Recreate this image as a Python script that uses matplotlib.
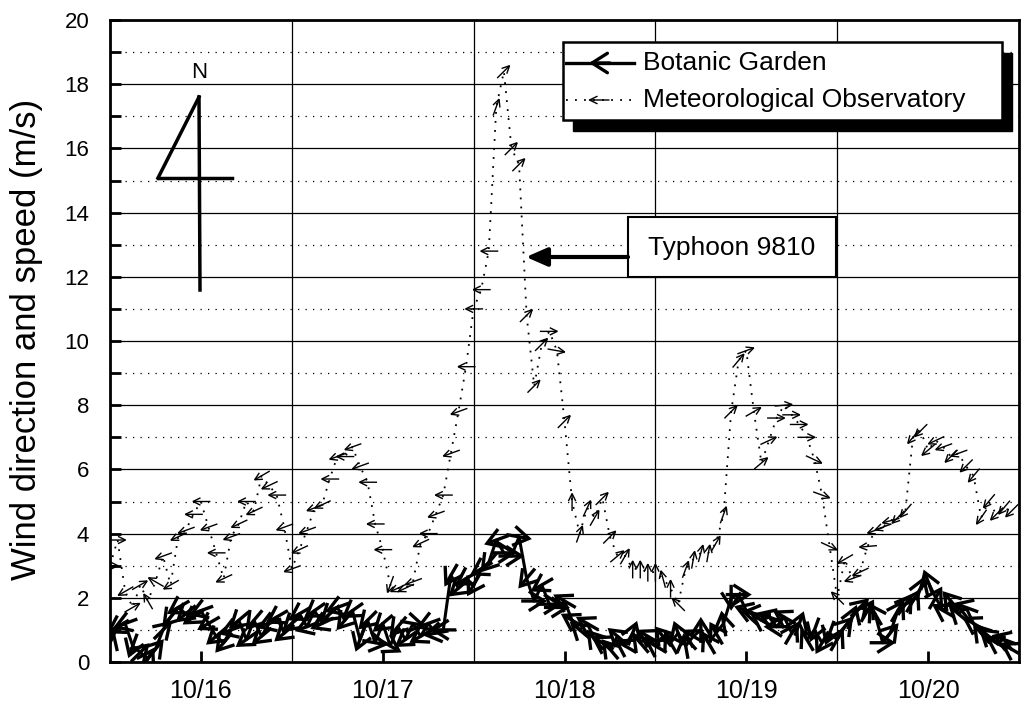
import numpy as np
from matplotlib import pyplot as plt
from matplotlib.patches import FancyArrowPatch, Rectangle

plt.rcParams['font.family'] = ['Liberation Sans', 'DejaVu Sans']

# hourly record, 10/16 00:00 .. 10/20 23:00
hours = np.arange(120)
day_labels = ['10/16', '10/17', '10/18', '10/19', '10/20']

# Botanic Garden: speed (m/s) and direction the wind blows toward (deg, 0 = N)
bot_speed = [0.6, 1.1, 1.2, 0.5, 0.3, 0.1, 0.4, 1.0, 1.4, 1.7, 1.5, 1.4, 1.6, 1.2, 0.8, 0.6, 1.0, 1.3, 0.7, 1.3, 0.8, 1.2, 1.4, 0.9,
             1.2, 1.5, 1.1, 1.6, 1.2, 1.5, 1.7, 1.3, 1.6, 0.7, 1.3, 0.6, 1.2, 0.5, 1.1, 0.7, 1.2, 0.8, 1.2, 0.9, 1.0, 2.7, 2.3, 2.6,
             2.4, 2.9, 3.1, 3.8, 3.4, 3.3, 3.9, 2.6, 1.9, 2.4, 1.8, 1.7, 1.9, 1.3, 1.0, 1.2, 0.7, 0.6, 0.4, 0.8, 0.5, 0.9, 0.6, 0.8,
             0.5, 0.8, 0.6, 0.9, 0.5, 0.8, 1.0, 0.6, 0.9, 1.2, 2.0, 2.1, 1.6, 1.5, 1.3, 1.4, 1.1, 1.4, 0.9, 1.2, 0.7, 1.0, 0.6, 0.9,
             0.7, 1.1, 1.4, 1.7, 1.6, 1.5, 0.6, 0.9, 1.6, 1.8, 1.9, 2.3, 2.5, 2.0, 1.6, 1.9, 1.5, 1.7, 1.2, 0.9, 0.8, 0.6, 0.7, 0.4]
bot_dir = [20, 240, 250, 200, 45, 30, 40, 45, 220, 240, 230, 235, 250, 240, 230, 220, 250, 230, 235, 220, 230, 250, 240, 230,
           230, 240, 250, 235, 245, 230, 250, 220, 235, 200, 225, 100, 230, 120, 220, 235, 100, 240, 250, 260, 270, 210, 230, 240,
           210, 240, 220, 250, 90, 90, 100, 220, 90, 240, 90, 90, 300, 300, 310, 300, 320, 300, 320, 310, 300, 20, 320, 300,
           300, 320, 330, 340, 350, 300, 0, 330, 330, 350, 180, 90, 290, 280, 300, 290, 270, 300, 30, 20, 330, 200, 210, 200,
           30, 40, 20, 45, 30, 330, 90, 40, 30, 35, 30, 20, 340, 30, 300, 320, 310, 290, 300, 320, 310, 300, 290, 300]

# Meteorological Observatory
obs_speed = [3.0, 3.8, 2.2, 1.7, 2.4, 1.9, 2.5, 3.3, 2.4, 3.9, 4.1, 4.6, 5.0, 4.2, 3.4, 2.6, 3.9, 4.3, 5.0, 4.7, 5.8, 5.5, 5.2, 4.2,
             2.9, 3.5, 4.1, 4.8, 4.9, 5.7, 6.4, 6.4, 6.7, 6.1, 5.6, 4.3, 3.5, 2.4, 2.3, 2.3, 2.5, 3.7, 4.0, 4.6, 5.2, 6.5, 7.8, 9.2,
             11.0, 11.6, 12.8, 17.3, 18.4, 16.0, 15.5, 10.8, 8.6, 9.9, 10.3, 9.7, 7.5, 5.0, 4.0, 4.8, 4.5, 5.1, 3.9, 3.3, 3.3, 2.9, 2.9, 2.8,
             2.8, 2.6, 2.3, 1.8, 2.9, 3.2, 3.4, 3.4, 3.7, 4.6, 7.8, 9.4, 9.7, 7.8, 6.2, 6.9, 7.6, 8.0, 7.7, 7.4, 7.0, 6.3, 5.2, 3.6,
             2.0, 3.2, 2.6, 2.8, 3.6, 4.1, 4.2, 4.4, 4.5, 4.7, 7.0, 7.2, 6.6, 6.9, 6.7, 6.4, 6.5, 6.1, 5.8, 4.5, 5.0, 4.6, 4.8, 4.7]
obs_dir = [90, 90, 240, 60, 60, 330, 300, 250, 240, 245, 250, 270, 270, 250, 270, 245, 250, 245, 270, 245, 240, 245, 270, 250,
           250, 245, 250, 250, 245, 270, 250, 270, 250, 250, 270, 270, 270, 200, 245, 245, 250, 245, 270, 250, 270, 250, 250, 270,
           270, 270, 270, 20, 45, 45, 45, 45, 45, 45, 90, 100, 45, 0, 20, 25, 30, 45, 45, 50, 30, 0, 0, 0,
           0, 345, 0, 315, 20, 10, 15, 10, 30, 20, 45, 40, 70, 60, 50, 65, 90, 85, 90, 90, 90, 115, 110, 115,
           315, 240, 250, 245, 265, 250, 250, 255, 225, 220, 220, 225, 230, 245, 250, 225, 250, 225, 220, 215, 220, 225, 220, 225]

FIG_W, FIG_H = 1021, 708
AX_L, AX_R, AX_T, AX_B = 110, 1019, 20, 662
X_MAX, Y_MAX = 120, 20


def px(x, y):
    # figure pixel -> data coordinates (for decorations only)
    return ((x - AX_L) * X_MAX / (AX_R - AX_L), (AX_B - y) * Y_MAX / (AX_B - AX_T))


def vector_arrows(ax, x, y, d, length, lw, style, scale, z):
    sx = X_MAX / (AX_R - AX_L)
    sy = Y_MAX / (AX_B - AX_T)
    for xi, yi, di in zip(x, y, d):
        th = np.radians(di)
        dx = 0.5 * length * np.sin(th) * sx
        dy = 0.5 * length * np.cos(th) * sy
        a = FancyArrowPatch((xi - dx, yi - dy), (xi + dx, yi + dy), arrowstyle=style,
                            mutation_scale=scale, lw=lw, color='k', shrinkA=0, shrinkB=0,
                            zorder=z, capstyle='butt', joinstyle='miter')
        ax.add_patch(a)


def main():
    fig = plt.figure(figsize=(FIG_W / 100, FIG_H / 100), dpi=100)
    ax = fig.add_axes([AX_L / FIG_W, 1 - AX_B / FIG_H,
                       (AX_R - AX_L) / FIG_W, (AX_B - AX_T) / FIG_H])
    ax.set_xlim(0, X_MAX)
    ax.set_ylim(0, Y_MAX)

    # grid
    for v in range(2, 20, 2):
        ax.axhline(v, color='k', lw=0.9, zorder=1)
    for v in range(1, 20, 2):
        ax.axhline(v, color='k', lw=0.9, ls=(0, (1, 5)), zorder=1)
    for d in range(24, 120, 24):
        ax.axvline(d, color='k', lw=0.9, zorder=1)

    # Meteorological Observatory
    ax.plot(hours, obs_speed, color='k', lw=1.3, ls=(0, (1, 4)), zorder=2)
    vector_arrows(ax, hours, obs_speed, obs_dir, 19, 1.0,
                  '->,head_length=0.45,head_width=0.22', 12, 3)

    # Botanic Garden
    ax.plot(hours, bot_speed, color='k', lw=2.2, zorder=4)
    vector_arrows(ax, hours, bot_speed, bot_dir, 26, 2.4,
                  '->,head_length=0.55,head_width=0.35', 20, 4)

    ax.set_yticks(range(0, 21, 2))
    ax.set_yticks(range(1, 20, 2), minor=True)
    ax.set_xticks(np.arange(12, 120, 24))
    ax.set_xticklabels(day_labels)
    ax.tick_params(axis='y', which='both', direction='in', length=8, width=2, labelsize=16, pad=15)
    ax.tick_params(axis='x', direction='in', length=8, width=2, labelsize=18, pad=12)
    for s in ax.spines.values():
        s.set_linewidth(2)
    fig.text(27 / FIG_W, 1 - 339 / FIG_H, 'Wind direction and speed (m/s)', rotation=90,
             ha='center', va='center', fontsize=25)

    # legend with drop shadow
    x0, y0 = px(563, 120)
    x1, y1 = px(1002, 42)
    xs, ys = px(573, 131)
    ax.add_patch(Rectangle((xs, ys), x1 - x0, y1 - y0, color='k', zorder=6))
    ax.add_patch(Rectangle((x0, y0), x1 - x0, y1 - y0, facecolor='white',
                           edgecolor='k', lw=1.8, zorder=7))
    la, lb = px(566, 63), px(634, 63)
    ax.plot([la[0], lb[0]], [la[1], lb[1]], color='k', lw=2.4, zorder=8)
    ax.add_patch(FancyArrowPatch(px(610, 63), px(589, 63), arrowstyle='->,head_length=0.55,head_width=0.35',
                                 mutation_scale=20, lw=2.4, color='k', shrinkA=0, shrinkB=0, zorder=8))
    ma, mb = px(566, 100), px(634, 100)
    ax.plot([ma[0], mb[0]], [ma[1], mb[1]], color='k', lw=1.3, ls=(0, (1, 4)), zorder=8)
    ax.add_patch(FancyArrowPatch(px(609, 100), px(588, 100), arrowstyle='->,head_length=0.45,head_width=0.22',
                                 mutation_scale=12, lw=1.0, color='k', shrinkA=0, shrinkB=0, zorder=8))
    t1, t2 = px(643, 63), px(643, 100)
    ax.text(t1[0], t1[1], 'Botanic Garden', fontsize=19, va='center', ha='left', zorder=9)
    ax.text(t2[0], t2[1], 'Meteorological Observatory', fontsize=19, va='center', ha='left', zorder=9)

    # typhoon label
    bx0, by0 = px(628, 277)
    bx1, by1 = px(836, 217)
    ax.add_patch(Rectangle((bx0, by0), bx1 - bx0, by1 - by0, facecolor='white',
                           edgecolor='k', lw=1.5, zorder=7))
    tc = px(732, 248)
    ax.text(tc[0], tc[1], 'Typhoon 9810', fontsize=19, ha='center', va='center', zorder=8)
    ax.add_patch(FancyArrowPatch(px(628, 257), px(526, 257), arrowstyle='-|>,head_length=0.8,head_width=0.35',
                                 mutation_scale=16, lw=3, color='k', shrinkA=0, shrinkB=0, zorder=8))

    # north sign
    top, bot = px(199, 97), px(200, 290)
    left, right = px(158, 178), px(232, 178)
    ax.plot([top[0], bot[0]], [top[1], bot[1]], color='k', lw=2.5, zorder=5)
    ax.plot([left[0], top[0]], [left[1], top[1]], color='k', lw=2.5, zorder=5)
    ax.plot([left[0], right[0]], [left[1], right[1]], color='k', lw=2.5, zorder=5)
    n = px(199, 73)
    ax.text(n[0], n[1], 'N', fontsize=16, ha='center', va='center', zorder=5)

    plt.savefig('out.png', dpi=100)


if __name__ == "__main__":
    main()
